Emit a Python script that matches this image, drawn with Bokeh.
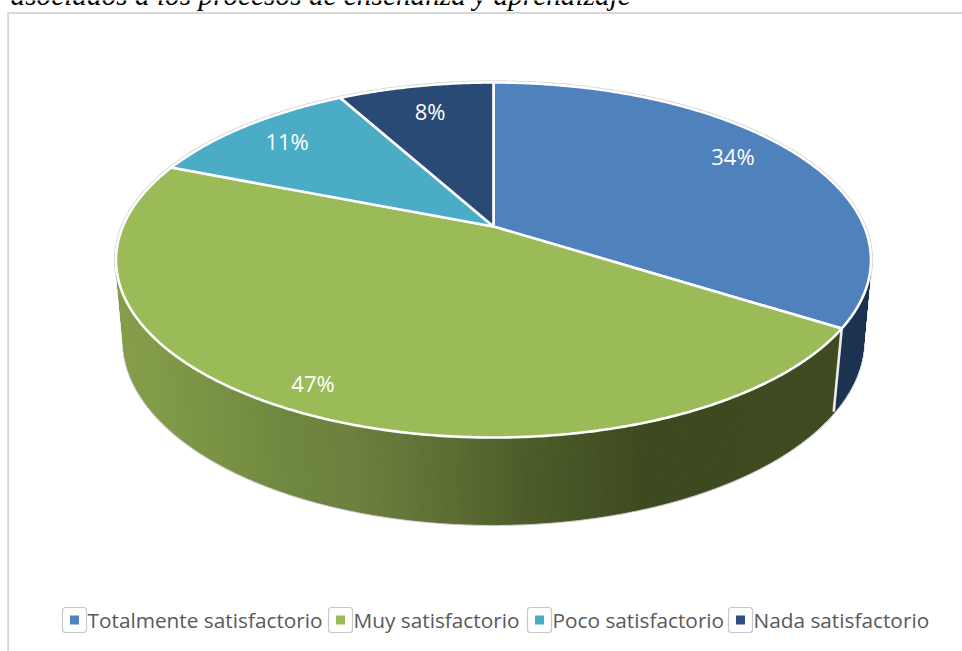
import numpy as np
from bokeh.plotting import figure
from bokeh.embed import file_html
from bokeh.resources import INLINE
from bokeh.core.properties import value

categories = ["Totalmente satisfactorio", "Muy satisfactorio", "Poco satisfactorio", "Nada satisfactorio"]
shares = [34, 47, 11, 8]
labels = ["34%", "47%", "11%", "8%"]
top_colors = ["#4f81bd", "#9bbb59", "#4bacc6", "#284a75"]
key_colors = ["#4f81bd", "#9bbb59", "#4bacc6", "#2f4f80"]
title_text = "asociados a los procesos de enseñanza y aprendizaje"

# projection of the tilted disc onto the page
APEX_X, APEX_Y = 493.0, 226.0
A, B, T = 370.7, 171.2, 0.1887
label_radius = [0.79, 0.883, 0.818, 0.786]
label_nudge_x = [0, -6, 0, 0]
label_nudge_y = [-10, -2, -1, -2]


def project(clock_deg, r=1.0):
    th = np.radians(clock_deg)
    X, Y = r * np.sin(th), r * np.cos(th)
    w = 1 + T * Y
    return APEX_X + A * X / w, APEX_Y - B * Y / w


def lower(x, y):
    return APEX_X + 0.98 * (np.asarray(x) - APEX_X), 340 + 1.036 * (np.asarray(y) - 259.5)


def arc(a0, a1, step=0.5):
    n = max(2, int(abs(a1 - a0) / step) + 1)
    return np.linspace(a0, a1, n)


p = figure(width=962, height=651, x_range=(0, 962), y_range=(651, 0),
           output_backend="svg", toolbar_location=None, min_border=0,
           outline_line_color=None, background_fill_color="white")
p.axis.visible = False
p.grid.visible = False

# frame and (cropped) caption
p.line([7.6, 7.6, 962], [651, 12.5, 12.5], line_color="#d9d9d9", line_width=2)
p.text([10], [-6], text=[title_text], text_font=value("Liberation Serif"), text_font_style="italic",
       text_font_size="29.3px", text_color="#000000", text_baseline="alphabetic", text_align="left")

# slice angles
edges = np.cumsum([0] + shares) * 3.6

# side wall: one narrow strip per step, shaded left to right
grad_x = [118, 153, 287, 353, 453, 520, 650, 840]
grad_r = [134, 130, 111, 110, 91, 78, 61, 63]
grad_g = [158, 155, 136, 128, 109, 94, 74, 75]
grad_b = [74, 72, 64, 62, 51, 42, 32, 32]
wall_xs, wall_ys, wall_cols = [], [], []
angles = arc(96, 264, 0.6)
for a0, a1 in zip(angles[:-1], angles[1:]):
    tx, ty = project(np.array([a0, a1]))
    bx, by = lower(tx, ty)
    wall_xs.append([tx[0], tx[1], bx[1], bx[0]])
    wall_ys.append([ty[0], ty[1], by[1], by[0]])
    mid = (tx[0] + tx[1]) / 2
    if (a0 + a1) / 2 < edges[1]:
        wall_cols.append("#1b3350")
    else:
        r, g, b = (int(np.interp(mid, grad_x, c)) for c in (grad_r, grad_g, grad_b))
        wall_cols.append(f"#{r:02x}{g:02x}{b:02x}")

# soft grey silhouette below the wall
sil = arc(101, 259)
sx, sy = lower(*project(sil))
tl = project(259.1)
tr = project(100.9)
p.line(np.r_[tr[0], sx, tl[0]], np.r_[tr[1], sy, tl[1]], line_color="#c4c4c4", line_width=3)
rim = arc(0, 360)
rx, ry = project(rim)
p.line(rx, ry, line_color="#cfcfcf", line_width=4)

p.patches(wall_xs, wall_ys, fill_color=wall_cols, line_color=wall_cols, line_width=1)

# white split on the wall between the two front slices
ex, ey = project(edges[1])
ex2, ey2 = lower(ex, ey)
p.line([ex, ex2 - 1], [ey, ey2], line_color="#ececec", line_width=2.6)

# top face
xs, ys = [], []
for a0, a1 in zip(edges[:-1], edges[1:]):
    x, y = project(arc(a0, a1))
    xs.append(np.r_[APEX_X, x])
    ys.append(np.r_[APEX_Y, y])
p.patches(xs, ys, fill_color=top_colors, line_color="white", line_width=2.6, line_join="round")

# value labels
mids = (edges[:-1] + edges[1:]) / 2
lx, ly = zip(*[project(m, r) for m, r in zip(mids, label_radius)])
p.text(np.add(lx, label_nudge_x), np.add(ly, label_nudge_y), text=labels, text_color="white",
       text_font=value("Open Sans"), text_font_size="22px", text_align="center", text_baseline="middle")

# legend
key_left = [62, 328, 527, 728]
key_w = 24
key_top, key_h = 607, 25
text_left = [87, 353, 552, 753]
kx = [k + key_w / 2 for k in key_left]
ky = [key_top + key_h / 2] * 4
p.rect(kx, ky, width=key_w, height=key_h, fill_color="white", line_color="#c8c8c8", line_width=1.2, border_radius=3)
p.rect(kx, ky, width=9, height=9, fill_color=key_colors, line_color=None)
p.text(text_left, ky, text=categories, text_color="#595959", text_font=value("Open Sans"), text_font_size="20.8px",
       text_align="left", text_baseline="middle")

open("out.html", "w").write(file_html(p, INLINE))
